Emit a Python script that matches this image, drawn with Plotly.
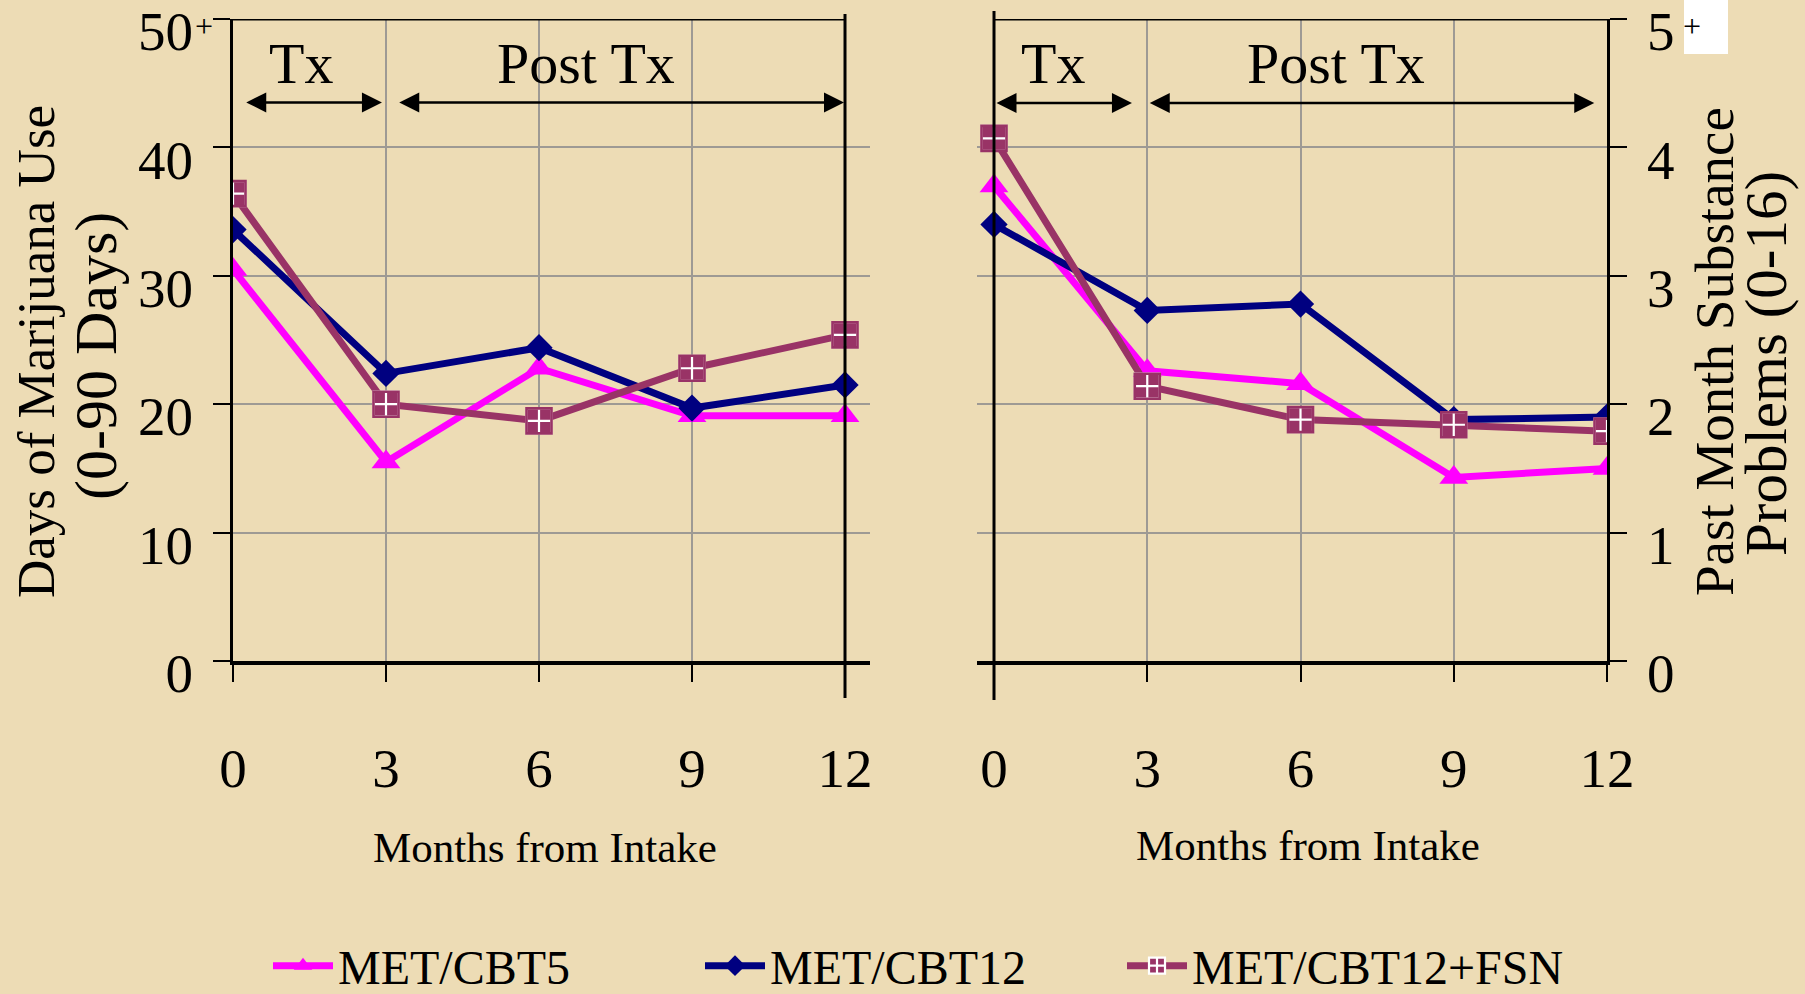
import plotly.graph_objects as go

W, H = 1805, 994

# ---- data -------------------------------------------------------------
months = [0, 3, 6, 9, 12]
series_names = ["MET/CBT5", "MET/CBT12", "MET/CBT12+FSN"]

# Days of marijuana use (0-90 days)
days_cbt5 = [30.5, 15.5, 22.8, 19.1, 19.1]
days_cbt12 = [33.6, 22.4, 24.4, 19.7, 21.5]
days_fsn = [36.4, 20.0, 18.7, 22.8, 25.4]

# Past-month substance problems (0-16)
probs_cbt5 = [3.70, 2.26, 2.16, 1.43, 1.50]
probs_cbt12 = [3.40, 2.73, 2.78, 1.88, 1.90]
probs_fsn = [4.07, 2.14, 1.88, 1.84, 1.79]

left_ticks = [0, 10, 20, 30, 40, 50]
left_ticktext = ["0", "10", "20", "30", "40", "50"]
right_ticks = [0, 1, 2, 3, 4, 5]
right_ticktext = ["0", "1", "2", "3", "4", "5"]
open_top_mark = "+"   # the top tick of each scale is open-ended ("50+", "5+")

phase_labels = ["Tx", "Post Tx"]

# ---- styling ------------------------------------------------------------
FONT = "Liberation Serif"
BG = "#EDDCB5"
GRID = "#9E9A94"
colors = ["#FF00FF", "#000080", "#993366"]
symbols = ["triangle-up", "diamond", "square-cross"]
msizes = [25, 21, 25]
legend_ids = ["legend", "legend2", "legend3"]
legend_x_px = [268, 700, 1122]


def px_x(p):
    return p / W


def px_y(p):
    return 1 - p / H


fig = go.Figure()

left_sets = [days_cbt5, days_cbt12, days_fsn]
right_sets = [probs_cbt5, probs_cbt12, probs_fsn]

for panel, sets in (("1", left_sets), ("2", right_sets)):
    xa = "x" if panel == "1" else "x2"
    ya = "y" if panel == "1" else "y2"
    for i, (name, vals) in enumerate(zip(series_names, sets)):
        marker = dict(symbol=symbols[i], size=msizes[i], color=colors[i],
                      line=dict(width=0))
        if symbols[i] == "square-cross":
            marker["line"] = dict(color="white", width=2.2)
        fig.add_trace(go.Scatter(
            x=months, y=vals, name=name, mode="lines+markers",
            line=dict(color=colors[i], width=7),
            marker=marker, xaxis=xa, yaxis=ya,
            showlegend=(panel == "1"), legend=legend_ids[i],
            legendgroup=name, hoverinfo="skip"))
        if symbols[i] == "square-cross":
            # plum rim over the square edge so only the cross stays white
            fig.add_trace(go.Scatter(
                x=months, y=vals, mode="markers",
                marker=dict(symbol="square-open", size=msizes[i],
                            color=colors[i], line=dict(color=colors[i], width=2.6)),
                xaxis=xa, yaxis=ya, showlegend=False, hoverinfo="skip"))

# ---- axes ---------------------------------------------------------------
ydom = [px_y(661), px_y(19)]
tickfont = dict(family=FONT, size=55, color="black")

common_x = dict(tickvals=months, ticks="outside", ticklen=17, tickwidth=1.5,
                tickcolor="black", showgrid=True, gridcolor=GRID, gridwidth=1.5,
                zeroline=False, showline=True, linecolor="black", linewidth=4,
                tickfont=tickfont, ticklabelstandoff=39, automargin=False,
                ticklabeloverflow="allow", fixedrange=True)
common_y = dict(ticks="outside", ticklen=17, tickwidth=1.5, tickcolor="black",
                showgrid=True, gridcolor=GRID, gridwidth=1.5, zeroline=False,
                showline=True, linecolor="black", linewidth=3,
                tickfont=tickfont, ticklabelstandoff=9, ticklabelshift=12,
                automargin=False, ticklabeloverflow="allow", fixedrange=True)

fig.update_layout(
    xaxis=dict(domain=[px_x(233), px_x(870)], range=[0, 12.49], anchor="y",
               **common_x),
    yaxis=dict(domain=ydom, range=[0, 50], anchor="x", tickvals=left_ticks,
               ticktext=left_ticktext, side="left", **common_y),
    # right panel frame sits exactly at month 12
    xaxis2=dict(domain=[px_x(977), px_x(1607)], range=[-0.333, 12.0],
                anchor="y2", **common_x),
    yaxis2=dict(domain=ydom, range=[0, 5], anchor="x2", tickvals=right_ticks,
                ticktext=right_ticktext, side="right", **common_y),
)

# ---- frame lines --------------------------------------------------------
shapes = [
    # left panel: top border and the long month-12 line
    dict(type="line", xref="x", yref="y", x0=0, x1=12, y0=50, y1=50,
         line=dict(color="black", width=3)),
    dict(type="line", xref="x", yref="paper", x0=12, x1=12,
         y0=px_y(698), y1=px_y(14), line=dict(color="black", width=3)),
    # right panel: top border and the long month-0 line
    dict(type="line", xref="x2", yref="y2", x0=0, x1=12, y0=5, y1=5,
         line=dict(color="black", width=3)),
    dict(type="line", xref="x2", yref="paper", x0=0, x1=0,
         y0=px_y(700), y1=px_y(11), line=dict(color="black", width=3)),
    # white patch behind the right "5+"
    dict(type="rect", xref="paper", yref="paper", layer="below",
         x0=px_x(1684), x1=px_x(1728), y0=px_y(54), y1=1,
         fillcolor="white", line=dict(width=0)),
]

# ---- annotations --------------------------------------------------------
ann = []


def span_arrow(xr, yr, x0, x1, y):
    return dict(x=x1, y=y, ax=x0, ay=y, xref=xr, yref=yr, axref=xr, ayref=yr,
                text="", showarrow=True, arrowhead=2, startarrowhead=2,
                arrowside="end+start", arrowsize=1.6, startarrowsize=1.6,
                arrowwidth=2.5, arrowcolor="black", standoff=0, startstandoff=0)


phase_font = dict(family=FONT, size=58, color="black")
# left panel phases
ann.append(dict(x=1.33, y=46.5, xref="x", yref="y", text=phase_labels[0],
                showarrow=False, font=phase_font))
ann.append(dict(x=6.92, y=46.5, xref="x", yref="y", text=phase_labels[1],
                showarrow=False, font=phase_font))
ann.append(span_arrow("x", "y", 0.23, 2.92, 43.5))
ann.append(span_arrow("x", "y", 3.23, 11.98, 43.5))
# right panel phases
ann.append(dict(x=1.15, y=4.65, xref="x2", yref="y2", text=phase_labels[0],
                showarrow=False, font=phase_font))
ann.append(dict(x=6.70, y=4.65, xref="x2", yref="y2", text=phase_labels[1],
                showarrow=False, font=phase_font))
ann.append(span_arrow("x2", "y2", 0.02, 2.70, 4.345))
ann.append(span_arrow("x2", "y2", 3.02, 11.75, 4.345))

# small raised "+" after the top tick values
plus_font = dict(family=FONT, size=32, color="black")
for cx in (204, 1692):
    ann.append(dict(x=px_x(cx), y=px_y(26), xref="paper", yref="paper",
                    text=open_top_mark, showarrow=False, xanchor="center",
                    yanchor="middle", font=plus_font))

for text, cx, cy, fs in (("Days of Marijuana Use", 36, 352, 53),
                         ("(0-90 Days)", 96, 356, 60),
                         ("Past Month Substance", 1714, 352, 55),
                         ("Problems (0-16)", 1766, 364, 59)):
    ann.append(dict(x=px_x(cx), y=px_y(cy), xref="paper", yref="paper",
                    text=text, textangle=-90, showarrow=False,
                    xanchor="center", yanchor="middle",
                    font=dict(family=FONT, size=fs, color="black")))

xt_font = dict(family=FONT, size=43, color="black")
for cx, cy in ((545, 847), (1308, 845)):
    ann.append(dict(x=px_x(cx), y=px_y(cy), xref="paper", yref="paper",
                    text="Months from Intake", showarrow=False,
                    xanchor="center", yanchor="middle", font=xt_font))

legend_style = dict(orientation="h", xanchor="left", yanchor="middle",
                    y=px_y(966), bgcolor="rgba(0,0,0,0)", borderwidth=0,
                    font=dict(family=FONT, size=48, color="black"),
                    itemwidth=60, itemsizing="trace")
legends = {lid: dict(x=px_x(lx), **legend_style)
           for lid, lx in zip(legend_ids, legend_x_px)}

fig.update_layout(
    template="none",
    width=W, height=H, autosize=False,
    margin=dict(l=0, r=0, t=0, b=0, pad=0, autoexpand=False),
    paper_bgcolor=BG, plot_bgcolor="rgba(0,0,0,0)",
    shapes=shapes, annotations=ann,
    font=dict(family=FONT, color="black"),
    showlegend=True,
    **legends,
)

fig.write_html("out.html")
